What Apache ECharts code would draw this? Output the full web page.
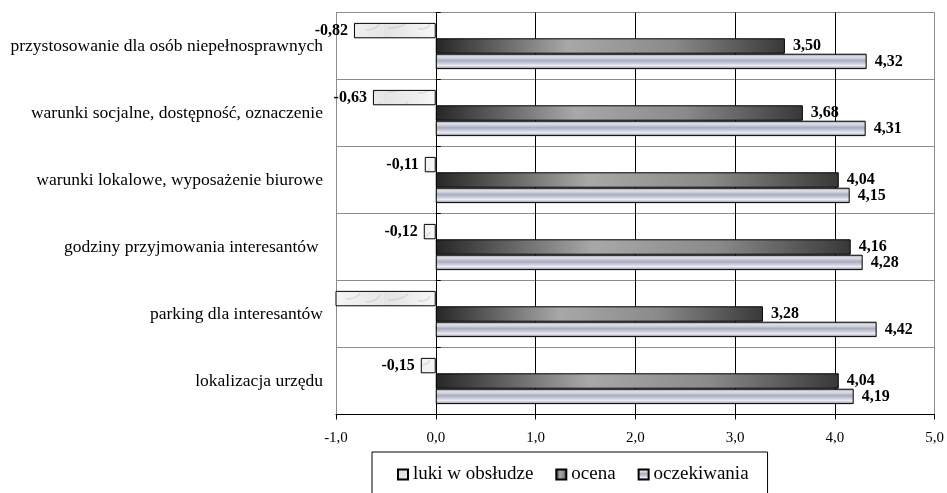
<!DOCTYPE html>
<html>
<head>
<meta charset="utf-8">
<script src="https://cdn.jsdelivr.net/npm/echarts@6/dist/echarts.min.js"></script>
<style>
  html, body { margin: 0; padding: 0; background: #fff; }
  #chart { width: 947px; height: 493px; }
</style>
</head>
<body>
<div id="chart"></div>
<script>
// Survey results: service gaps, ratings and expectations per aspect
const categories = [
  'przystosowanie dla osób niepełnosprawnych',
  'warunki socjalne, dostępność, oznaczenie',
  'warunki lokalowe, wyposażenie biurowe',
  'godziny przyjmowania interesantów ',
  'parking dla interesantów',
  'lokalizacja urzędu'
];
const seriesNames = ['luki w obsłudze', 'ocena', 'oczekiwania'];
const luki = [-0.82, -0.63, -0.11, -0.12, -1.14, -0.15];
const ocena = [3.50, 3.68, 4.04, 4.16, 3.28, 4.04];
const oczekiwania = [4.32, 4.31, 4.15, 4.28, 4.42, 4.19];
const xMin = -1, xMax = 5, xStep = 1;

const serif = '"Liberation Serif", "Times New Roman", serif';
const fmt2 = v => v.toFixed(2).replace('.', ',');
const fmt1 = v => v.toFixed(1).replace('.', ',');

// light marble-like fill for the gap bars
function marbleCanvas() {
  const c = document.createElement('canvas');
  c.width = 96; c.height = 16;
  const g = c.getContext('2d');
  const grd = g.createLinearGradient(0, 0, 96, 16);
  grd.addColorStop(0, '#e2e2e2');
  grd.addColorStop(0.5, '#f5f5f5');
  grd.addColorStop(1, '#e6e6e6');
  g.fillStyle = grd;
  g.fillRect(0, 0, 96, 16);
  g.strokeStyle = 'rgba(140,140,140,0.22)';
  g.lineWidth = 1.4;
  const streaks = [[4, 12, 24, 6], [34, 13, 46, 8], [58, 11, 72, 5], [78, 14, 92, 7]];
  streaks.forEach(([x1, y1, x2, y2]) => {
    g.beginPath();
    g.moveTo(x1, y1);
    g.quadraticCurveTo((x1 + x2) / 2 + 4, (y1 + y2) / 2 + 3, x2, y2);
    g.stroke();
  });
  return c;
}

const gapFill = { image: marbleCanvas(), repeat: 'repeat' };
const ratingFill = {
  type: 'linear', x: 0, y: 0, x2: 1, y2: 0,
  colorStops: [
    { offset: 0, color: '#262626' },
    { offset: 0.38, color: '#a8a8a8' },
    { offset: 0.68, color: '#8a8a8a' },
    { offset: 1, color: '#383838' }
  ]
};
const expectFill = {
  type: 'linear', x: 0, y: 0, x2: 0, y2: 1,
  colorStops: [
    { offset: 0, color: '#8e909c' },
    { offset: 0.2, color: '#e2e3ea' },
    { offset: 0.45, color: '#a9adc2' },
    { offset: 0.6, color: '#c4c7d5' },
    { offset: 0.78, color: '#eeeff3' },
    { offset: 1, color: '#7a7d8b' }
  ]
};

const labelBase = { fontFamily: serif, fontSize: 16, fontWeight: 'bold', color: '#000' };
const barBase = { type: 'bar', barGap: '0%', barCategoryGap: '31%' };

const chart = echarts.init(document.getElementById('chart'));
chart.setOption({
  animation: false,
  backgroundColor: '#fff',
  grid: { left: 336, right: 12.5, top: 12.5, bottom: 78.5, outerBoundsMode: 'none' },
  xAxis: {
    type: 'value', min: xMin, max: xMax, interval: xStep,
    axisLine: { show: true, onZero: false, lineStyle: { color: '#000', width: 1 } },
    axisTick: { show: true, length: 5, lineStyle: { color: '#000' } },
    axisLabel: { formatter: fmt1, fontFamily: serif, fontSize: 15, color: '#000', margin: 16 },
    splitLine: {
      show: true,
      lineStyle: { color: ['#8c8c8c', '#000', '#000', '#000', '#000', '#000', '#8c8c8c'], width: 1 }
    }
  },
  yAxis: [
    {
      type: 'category', data: categories, inverse: true,
      axisLine: { show: false, onZero: false },
      axisTick: { show: false },
      axisLabel: { interval: 0, margin: 13, fontFamily: serif, fontSize: 17.5, color: '#000' },
      splitLine: { show: true, interval: 0, lineStyle: { color: '#8c8c8c', width: 1 } }
    },
    {
      type: 'category', data: categories, inverse: true,
      axisLine: { show: true, onZero: true, lineStyle: { color: '#000', width: 1 } },
      axisTick: { show: true, length: 5, lineStyle: { color: '#000' } },
      axisLabel: { show: false },
      splitLine: { show: false }
    }
  ],
  legend: {
    left: 372, top: 452,
    padding: [13, 19, 30, 25],
    itemWidth: 10, itemHeight: 10, itemGap: 22,
    borderColor: '#000', borderWidth: 1,
    icon: 'rect',
    textStyle: { fontFamily: serif, fontSize: 19, color: '#000' },
    data: seriesNames
  },
  series: [
    Object.assign({}, barBase, {
      name: seriesNames[0],
      data: luki.map(v => (v < xMin ? { value: v, label: { show: false } } : v)),
      itemStyle: { color: gapFill, borderColor: '#000', borderWidth: 1 },
      label: Object.assign({ show: true, position: 'left', distance: 6, formatter: p => fmt2(p.value) }, labelBase)
    }),
    Object.assign({}, barBase, {
      name: seriesNames[1],
      data: ocena,
      itemStyle: { color: ratingFill, borderColor: '#000', borderWidth: 1 },
      label: Object.assign({ show: true, position: 'right', distance: 8, formatter: p => fmt2(p.value) }, labelBase)
    }),
    Object.assign({}, barBase, {
      name: seriesNames[2],
      data: oczekiwania,
      itemStyle: { color: expectFill, borderColor: '#000', borderWidth: 1 },
      label: Object.assign({ show: true, position: 'right', distance: 8, formatter: p => fmt2(p.value) }, labelBase)
    })
  ]
});
</script>
</body>
</html>
